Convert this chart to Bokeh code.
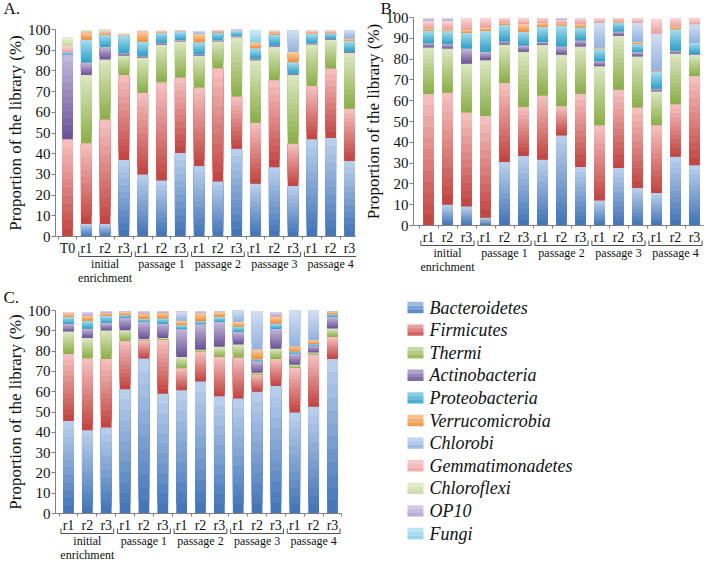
from bokeh.plotting import figure
from bokeh.models import ColumnDataSource, FixedTicker, LinearAxis, Range1d
from bokeh.layouts import row, column
from bokeh.embed import file_html
from bokeh.resources import INLINE
from bokeh.core.properties import value

# ---------------- data ----------------
series = ["Bacteroidetes", "Firmicutes", "Thermi", "Actinobacteria", "Proteobacteria",
          "Verrucomicrobia", "Chlorobi", "Gemmatimonadetes", "Chloroflexi", "OP10", "Fungi"]
# (dark bottom, light top) shade for each series' gradient fill
shade_dark = ["#3f72b7", "#c2413d", "#8aae45", "#6a5197", "#2aa0c8",
              "#f28a30", "#92b1df", "#ec9e9c", "#c3d89d", "#ab9dd0", "#82cfe6"]
shade_light = ["#bdd2ee", "#f7c3c1", "#dde9c4", "#c6badc", "#aadef0",
               "#fcd0a8", "#d2e0f4", "#fad8d7", "#e9f2d9", "#e0d9ef", "#cbeef8"]

reps = ["r1", "r2", "r3"]
groups = ["initial\nenrichment", "passage 1", "passage 2", "passage 3", "passage 4"]
labels_a = ["T0"] + reps * 5
labels_bc = reps * 5

# Panel A (T0, initial enrichment r1-r3, passage 1-4 r1-r3)
a_bacteroidetes = [0, 6, 6, 37, 30, 27, 40.3, 34, 26.6, 42.4, 25.5, 33.5, 24.4, 47, 47.6, 36.5]
a_firmicutes = [47, 39, 50.5, 41, 39.5, 47.5, 36.5, 38, 54.7, 25.2, 29.5, 42, 20.4, 25.7, 33.5, 25.2]
a_thermi = [0, 33, 29, 9.5, 17, 18.3, 17.5, 15.5, 13, 28.7, 30.2, 16, 33.5, 20.2, 14, 27.2]
a_actinobacteria = [41, 6, 6, 1, 0.8, 0.8, 0.6, 0.5, 0.6, 0.5, 0.8, 0.8, 0.3, 0.4, 0.4, 0.5]
a_proteobacteria = [1, 11, 6, 8.5, 6.8, 4.8, 4, 5.8, 3.7, 2.5, 4.9, 5.3, 5.6, 4.5, 2.7, 5]
a_verrucomicrobia = [0, 3.5, 0.7, 0, 4.6, 0.3, 0, 4, 0.3, 0, 2.7, 0.8, 4.9, 0.6, 0.3, 1.1]
a_chlorobi = [0, 0, 0, 0, 0, 0, 0, 1.5, 0, 0.5, 0, 0, 10.4, 0, 0, 4.3]
a_gemmatimonadetes = [3, 0.5, 1.2, 0.5, 0.5, 0.7, 0.6, 0, 0.7, 0.3, 0, 0.8, 0, 1, 1, 0]
a_chloroflexi = [4, 0.5, 0.5, 0.5, 0.5, 0.3, 0.3, 0, 0, 0, 0, 0.3, 0, 0.4, 0.3, 0]
a_op10 = [0] * 16
a_fungi = [0, 0, 0, 0, 0, 0, 0, 0, 0, 0, 5.8, 0, 0, 0, 0, 0]

# Panel B
b_bacteroidetes = [0, 10, 9.1, 3.7, 30.5, 33.4, 31.6, 43.3, 28.1, 12, 27.6, 18, 15.6, 33, 29]
b_firmicutes = [63.2, 53.8, 45.2, 48.9, 38, 23.6, 30.9, 14, 35.2, 36.2, 37.7, 38.7, 32.6, 25.3, 42.9]
b_thermi = [22.4, 21.3, 23.5, 26.9, 18.5, 26.5, 24.4, 24.8, 22.8, 28.4, 25.9, 24.6, 16.3, 24.4, 10.2]
b_actinobacteria = [2.0, 2.0, 7.3, 4, 1.5, 3, 1.3, 4, 2.9, 2.4, 2.1, 2.1, 1.2, 1.3, 0.4]
b_proteobacteria = [6.1, 6.4, 7.6, 10, 8, 6.6, 7.3, 10, 6.2, 5.8, 4.4, 4, 8.3, 10.3, 5.2]
b_verrucomicrobia = [0.8, 0.8, 1.3, 1.7, 1, 3.8, 1.9, 1, 1.6, 0.6, 0.8, 0.8, 0.3, 1.3, 0]
b_chlorobi = [0, 0, 0, 0, 0, 0, 0, 0, 0, 12.1, 0, 9.2, 17.9, 0, 9]
b_gemmatimonadetes = [4.0, 4.0, 5.6, 4.3, 2, 2.5, 2.4, 1.9, 3, 2, 1, 2.1, 7, 4, 2.7]
b_chloroflexi = [0] * 15
b_op10 = [0.9, 1.3, 0, 0, 0, 0, 0, 0.5, 0, 0, 0, 0, 0, 0, 0]
b_fungi = [0] * 15

# Panel C
c_bacteroidetes = [45.6, 41, 42.4, 61.2, 76.3, 59, 60.7, 65, 57.8, 56.6, 60, 62.8, 49.8, 52.6, 76.1]
c_firmicutes = [33, 35.5, 33.8, 23.8, 9, 26.5, 10.8, 14.5, 19.3, 20.3, 8.5, 13.3, 22, 25.5, 10.8]
c_thermi = [11, 10, 14, 5.3, 0.7, 1, 5.6, 1.2, 5, 6.4, 0.8, 5, 1.5, 1.2, 4.2]
c_actinobacteria = [3.7, 4.5, 3.6, 6.2, 8.3, 7, 13.7, 12.5, 12.2, 6.2, 5.7, 9.8, 5.5, 3.5, 5.8]
c_proteobacteria = [3.5, 4, 3.5, 1.1, 1.5, 2.5, 1.9, 1.5, 2.5, 2.5, 1, 2.6, 1, 0.7, 1.3]
c_verrucomicrobia = [1.4, 2.5, 1.4, 1.6, 2.7, 3, 2.1, 4, 2.5, 2.3, 4.8, 3.6, 2.5, 1.8, 1.2]
c_chlorobi = [0, 0, 0, 0, 0, 0, 4.5, 0, 0.5, 5.6, 19, 0, 17.7, 14.7, 0]
c_gemmatimonadetes = [0.8, 0, 0, 0, 0, 0, 0.5, 0, 0, 0, 0, 0, 0, 0, 0]
c_chloroflexi = [0] * 15
c_op10 = [0, 1.5, 1, 0.6, 1, 0.8, 0, 0.8, 0, 0, 0, 1.8, 0, 0, 0.4]
c_fungi = [0] * 15

data_a = [a_bacteroidetes, a_firmicutes, a_thermi, a_actinobacteria, a_proteobacteria,
          a_verrucomicrobia, a_chlorobi, a_gemmatimonadetes, a_chloroflexi, a_op10, a_fungi]
data_b = [b_bacteroidetes, b_firmicutes, b_thermi, b_actinobacteria, b_proteobacteria,
          b_verrucomicrobia, b_chlorobi, b_gemmatimonadetes, b_chloroflexi, b_op10, b_fungi]
data_c = [c_bacteroidetes, c_firmicutes, c_thermi, c_actinobacteria, c_proteobacteria,
          c_verrucomicrobia, c_chlorobi, c_gemmatimonadetes, c_chloroflexi, c_op10, c_fungi]

# ---------------- styling ----------------
SERIF = "Liberation Serif"
AXIS_COLOR = "#808080"
BRACKET_COLOR = "#505050"
TEXT_COLOR = "#111111"
N_SHADES = 12


def _rgb(h):
    return tuple(int(h[i:i + 2], 16) for i in (1, 3, 5))


def mix(c1, c2, t):
    a, b = _rgb(c1), _rgb(c2)
    return "#%02x%02x%02x" % tuple(round(x + (y - x) * t) for x, y in zip(a, b))


def bare_figure(w, h, xr, yr):
    p = figure(width=w, height=h, x_range=Range1d(*xr), y_range=Range1d(*yr),
               output_backend="svg", toolbar_location=None, title_location=None,
               x_axis_location=None, y_axis_location=None,
               min_border_left=0, min_border_right=0, min_border_top=0, min_border_bottom=0)
    p.grid.visible = False
    p.outline_line_color = None
    return p


def draw_stacks(p, xs, data, width):
    """Stacked bars; each segment shaded dark (bottom) to light (top).
    Every shade layer runs up to the segment's top, so later layers cover the upper part."""
    base = [0.0] * len(xs)
    for name, vals, dark, light in zip(series, data, shade_dark, shade_light):
        bx, bb, bt, bc = [], [], [], []
        for j, v in enumerate(vals):
            if v > 0:
                for k in range(N_SHADES):
                    bx.append(xs[j])
                    bb.append(base[j] + v * k / N_SHADES)
                    bt.append(base[j] + v)
                    bc.append(mix(dark, light, (k + 0.5) / N_SHADES))
            base[j] += v
        src = ColumnDataSource(dict(x=bx, bottom=bb, top=bt, color=bc))
        p.vbar(x="x", bottom="bottom", top="top", width=width, fill_color="color",
               line_color=None, source=src, name=name)


def make_panel(letter, labels, data, lead, box, yaxis_px, bar0_px, barn_px, axis_end_px,
               py100, py0, letter_px):
    # box = page geometry of the figure: left, top, width, height (pixels)
    left, top, w, h = box
    n = len(labels)
    sx = (barn_px - bar0_px) / (n - 1)
    sy = (py0 - py100) / 100.0

    def fx(px):
        return (px - bar0_px) / sx

    def fy(py):
        return (py0 - py) / sy

    p = bare_figure(w, h, (fx(left), fx(left + w)), (fy(top + h), fy(top)))

    xs = list(range(n))
    draw_stacks(p, xs, data, 0.57)

    # y axis
    ya = LinearAxis(fixed_location=fx(yaxis_px), bounds=(0, 100),
                    ticker=FixedTicker(ticks=list(range(0, 101, 10))),
                    axis_label="Proportion of the library (%)")
    ya.axis_label_text_font = SERIF
    ya.axis_label_text_font_style = "normal"
    ya.axis_label_text_font_size = "17px"
    ya.axis_label_text_color = TEXT_COLOR
    ya.axis_label_standoff = 0
    ya.major_label_text_font = SERIF
    ya.major_label_text_font_size = "15px"
    ya.major_label_text_color = TEXT_COLOR
    ya.major_label_standoff = 1
    ya.major_tick_out = 4
    ya.major_tick_in = 0
    ya.minor_tick_out = 0
    ya.minor_tick_in = 0
    ya.axis_line_color = AXIS_COLOR
    ya.major_tick_line_color = AXIS_COLOR
    p.add_layout(ya, "left")

    # x axis: replicate labels, small ticks between bars
    xa = LinearAxis(fixed_location=0, bounds=(fx(yaxis_px), fx(axis_end_px)),
                    ticker=FixedTicker(ticks=xs, minor_ticks=[x - 0.5 for x in xs] + [n - 0.5]),
                    major_label_overrides={x: lab for x, lab in zip(xs, labels)})
    xa.major_label_text_font = SERIF
    xa.major_label_text_font_size = "14px"
    xa.major_label_text_color = TEXT_COLOR
    xa.major_label_standoff = 1
    xa.major_tick_out = 0
    xa.major_tick_in = 0
    xa.minor_tick_out = 3
    xa.minor_tick_in = 0
    xa.axis_line_color = AXIS_COLOR
    xa.minor_tick_line_color = AXIS_COLOR
    p.add_layout(xa, "below")

    # group brackets and names below the axis
    starts = [lead + 3 * g for g in range(len(groups))]
    y_line, y_tick, y_text = fy(py0 + 20), fy(py0 + 15), fy(py0 + 20.5)
    p.multi_line(xs=[[s - 0.4, s - 0.4, s + 2.4, s + 2.4] for s in starts],
                 ys=[[y_tick, y_line, y_line, y_tick] for _ in starts],
                 line_color=BRACKET_COLOR, line_width=1)
    p.text(x=[s + 1 for s in starts], y=[y_text] * len(starts), text=groups,
           text_font=value(SERIF), text_font_size="12px", text_color=TEXT_COLOR,
           text_align="center", text_baseline="top", text_line_height=1.0)

    # panel letter
    p.text(x=[fx(letter_px[0])], y=[fy(letter_px[1])], text=[letter],
           text_font=value(SERIF), text_font_size="17px", text_color=TEXT_COLOR,
           text_align="left", text_baseline="top")
    return p


pA = make_panel("A.", labels_a, data_a, 1, (8, 0, 356, 285),
                63, 75, 357, 364, 29, 236, (11, -2))
pB = make_panel("B.", labels_bc, data_b, 0, (364, 0, 348, 285),
                421, 436, 702, 711, 17, 225, (388, -2))
pC = make_panel("C.", labels_bc, data_c, 0, (8, 285, 356, 277),
                63, 76, 340, 349, 310, 513, (11, 287))

# ---------------- legend panel (page pixel coordinates, y pointing down) ----------------
pL = bare_figure(348, 277, (364, 712), (562, 285))
leg_y = [307 + 22.6 * i for i in range(len(series))]
for part in range(3):
    pL.rect(x=[423] * len(series), y=[y + 11 / 3 - part * 11 / 3 for y in leg_y],
            width=16, height=11 / 3 + 0.4,
            fill_color=[mix(d, l, 0.25 + 0.25 * part) for d, l in zip(shade_dark, shade_light)],
            line_color=None)
pL.text(x=[437] * len(series), y=leg_y, text=series, text_font=value(SERIF),
        text_font_style="italic", text_font_size="18px", text_color=TEXT_COLOR,
        text_align="left", text_baseline="middle")

layout = column(row(pA, pB), row(pC, pL))
open("out.html", "w").write(file_html(layout, INLINE))
